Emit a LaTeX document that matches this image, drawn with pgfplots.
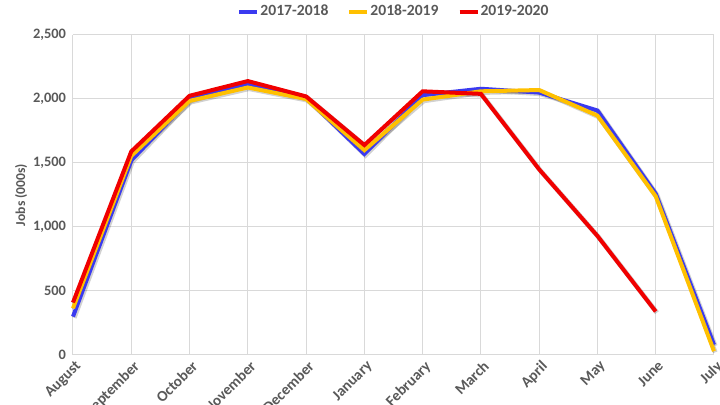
\documentclass[border=0pt]{standalone}
\usepackage{fontspec}
\setmainfont{Carlito}
\usepackage{pgfplots}
\pgfplotsset{compat=1.18}

\definecolor{cBlue}{RGB}{58,58,240}
\definecolor{cYellow}{RGB}{255,192,0}
\definecolor{cRed}{RGB}{240,0,0}
\definecolor{txtgray}{RGB}{89,89,89}
\definecolor{gridgray}{RGB}{217,217,217}

\pgfplotsset{
  shadow/.style={forget plot, line width=2.4pt, black, opacity=0.18,
    transform canvas={xshift=0.6pt, yshift=-0.6pt}},
}

\begin{document}
\begin{tikzpicture}
  \path[use as bounding box] (-36.5pt,-25pt) rectangle (323.5pt,177.5pt);
  \begin{axis}[
    at={(0,0)}, anchor=south west,
    scale only axis,
    width=320.5pt, height=160pt,
    xmin=0, xmax=11, ymin=0, ymax=2500,
    xtick={0,...,11},
    xticklabels={August,September,October,November,December,January,February,March,April,May,June,July},
    ytick={0,500,1000,1500,2000,2500},
    /pgf/number format/1000 sep={,},
    /pgf/number format/assume math mode=true,
    x tick label style={rotate=45, anchor=north east, inner sep=1pt, yshift=-1pt,
      font=\fontsize{7.6}{8}\selectfont\bfseries, text=txtgray},
    y tick label style={font=\fontsize{7.2}{8}\selectfont\bfseries, text=txtgray},
    ylabel={Jobs (000s)},
    ylabel style={font=\fontsize{6.8}{8}\selectfont\bfseries, text=txtgray, yshift=-4pt},
    axis line style={draw=none},
    major tick length=0pt,
    grid=major,
    grid style={gridgray, line width=0.5pt},
    clip=false,
    legend style={at={(0.5,1)}, yshift=11.5pt, anchor=center, draw=none, fill=none,
      font=\fontsize{7.8}{8}\selectfont\bfseries, text=txtgray,
      legend columns=3,
      /tikz/every even column/.append style={column sep=9pt},
      /tikz/every odd column/.append style={column sep=0pt},
      nodes={inner xsep=0.5pt}},
    legend image code/.code={\draw[#1, line width=2pt] (0pt,0pt) -- (9pt,0pt);},
  ]
  % shadows
  \addplot[shadow] coordinates {(0,300) (1,1520) (2,1995) (3,2115) (4,2010) (5,1570) (6,2030) (7,2080) (8,2050) (9,1910) (10,1260) (11,80)};
  \addplot[shadow] coordinates {(0,365) (1,1555) (2,1985) (3,2090) (4,2000) (5,1600) (6,1995) (7,2060) (8,2070) (9,1870) (10,1240) (11,30)};
  \addplot[shadow] coordinates {(0,410) (1,1590) (2,2025) (3,2140) (4,2020) (5,1640) (6,2060) (7,2040) (8,1450) (9,930) (10,340)};
  % series
  \addplot[cBlue, line width=2pt] coordinates {
    (0,300) (1,1520) (2,1995) (3,2115) (4,2010) (5,1570)
    (6,2030) (7,2080) (8,2050) (9,1910) (10,1260) (11,80)};
  \addlegendentry{2017-2018}
  \addplot[cYellow, line width=2pt] coordinates {
    (0,365) (1,1555) (2,1985) (3,2090) (4,2000) (5,1600)
    (6,1995) (7,2060) (8,2070) (9,1870) (10,1240) (11,30)};
  \addlegendentry{2018-2019}
  \addplot[cRed, line width=2pt] coordinates {
    (0,410) (1,1590) (2,2025) (3,2140) (4,2020) (5,1640)
    (6,2060) (7,2040) (8,1450) (9,930) (10,340)};
  \addlegendentry{2019-2020}
  \end{axis}
\end{tikzpicture}
\end{document}
